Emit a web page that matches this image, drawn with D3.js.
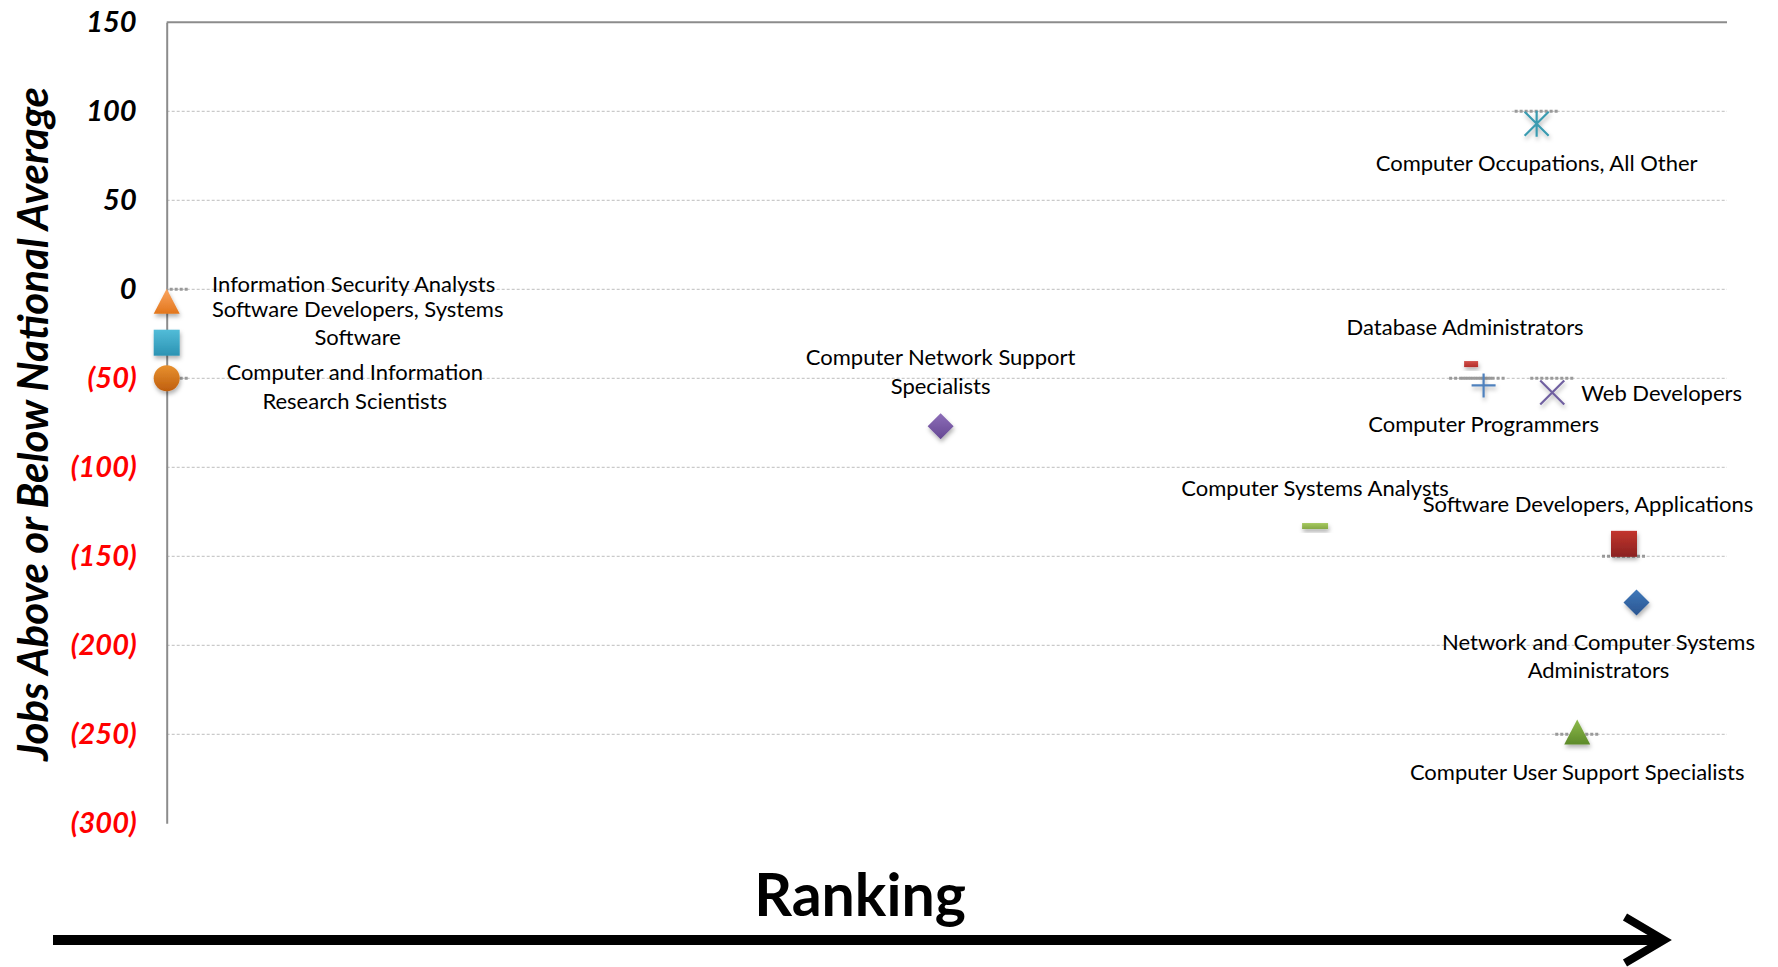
<!DOCTYPE html>
<meta charset="utf-8">
<style>
body { margin: 0; background: #fff; }
svg { display: block; }
.lbl { font: 22px Lato, "Open Sans", sans-serif; fill: #000; }
.tick text { font: italic bold 29px Lato, sans-serif; }
</style>
<body>
<script src="https://cdnjs.cloudflare.com/ajax/libs/d3/7.8.5/d3.min.js"></script>
<script>

// occupations, their ranking (0-100) and jobs above/below national average
var names = [
  "Information Security Analysts",
  "Software Developers, Systems Software",
  "Computer and Information Research Scientists",
  "Computer Network Support Specialists",
  "Computer Systems Analysts",
  "Database Administrators",
  "Computer Programmers",
  "Computer Occupations, All Other",
  "Web Developers",
  "Computer User Support Specialists",
  "Software Developers, Applications",
  "Network and Computer Systems Administrators"
];
var ranking = [0, 0, 0, 49.6, 73.6, 83.6, 84.4, 87.8, 88.8, 90.4, 93.4, 94.2];
var jobs = [-7, -30, -50, -77, -133, -42, -54, 93, -58, -249, -143, -176];
// dotted reference level drawn under some markers
var level = [0, null, -50, null, null, -50, -50, 100, -50, -250, -150, null];
var yTicks = [150, 100, 50, 0, -50, -100, -150, -200, -250, -300];

// how each label is broken and placed, and each marker's look
var labelLines = [
  ["Information Security Analysts"],
  ["Software Developers, Systems", "Software"],
  ["Computer and Information", "Research Scientists"],
  ["Computer Network Support", "Specialists"],
  ["Computer Systems Analysts"],
  ["Database Administrators"],
  ["Computer Programmers"],
  ["Computer Occupations, All Other"],
  ["Web Developers"],
  ["Computer User Support Specialists"],
  ["Software Developers, Applications"],
  ["Network and Computer Systems", "Administrators"]
];
var labelOffset = [
  [187, -10, "middle"], [191, -26, "middle"], [188, 2, "middle"],
  [0, -61, "middle"], [0, -30, "middle"], [-6, -29, "middle"],
  [0, 47, "middle"], [0, 47, "middle"], [29, 8, "start"],
  [0, 47, "middle"], [-36, -32, "middle"], [-38, 47, "middle"]
];
var markers = [
  ["triangle", "#FBA560", "#E2761C"],
  ["square", "#52BCD8", "#2B93B3"],
  ["circle", "#E8912F", "#BF5E0E"],
  ["diamond", "#8C6DB8", "#664893"],
  ["dash", "#A5C95E", "#86A847"],
  ["smalldash", "#D2504A", "#B3302C"],
  ["plus", "#4F81BD", "#4F81BD"],
  ["asterisk", "#3A9BB0", "#3A9BB0"],
  ["cross", "#7060A0", "#7060A0"],
  ["triangle", "#8DBA4A", "#5D8A2A"],
  ["square", "#C3352E", "#8A2220"],
  ["diamond", "#3F78BA", "#2A5590"]
];

var W = 1778, H = 967;

var svg = d3.select("body").append("svg")
    .attr("width", W)
    .attr("height", H);

var x = d3.scaleLinear().domain([0, 100]).range([166.7, 1727]);
var y = d3.scaleLinear().domain([-300, 150]).range([823.3, 22.3]);

var defs = svg.append("defs");
var shadow = defs.append("filter").attr("id", "shadow")
    .attr("x", "-50%").attr("y", "-50%").attr("width", "200%").attr("height", "200%");
shadow.append("feDropShadow")
    .attr("dx", 1).attr("dy", 3).attr("stdDeviation", 2)
    .attr("flood-color", "#000").attr("flood-opacity", 0.3);
defs.append("clipPath").attr("id", "plot")
  .append("rect")
    .attr("x", x(0)).attr("y", y(150))
    .attr("width", x(100) - x(0)).attr("height", y(-300) - y(150));

markers.forEach(function(m, i) {
  var g = defs.append("linearGradient").attr("id", "grad" + i)
      .attr("x1", 0).attr("y1", 0).attr("x2", 0).attr("y2", 1);
  g.append("stop").attr("offset", "0%").attr("stop-color", m[1]);
  g.append("stop").attr("offset", "100%").attr("stop-color", m[2]);
});

// gridlines
svg.append("g")
    .selectAll("line")
    .data(yTicks.filter(function(d) { return d > -300; }))
  .enter().append("line")
    .attr("x1", x(0))
    .attr("x2", x(100))
    .attr("y1", function(d) { return y(d); })
    .attr("y2", function(d) { return y(d); })
    .attr("stroke", function(d) { return d == 150 ? "#8c8c8c" : "#bdbdbd"; })
    .attr("stroke-width", function(d) { return d == 150 ? 2 : 1; })
    .attr("stroke-dasharray", function(d) { return d == 150 ? null : "3,2"; });

// y axis
var yAxis = svg.append("g")
    .attr("transform", "translate(" + x(0) + ",0)")
    .call(d3.axisLeft(y)
      .tickValues(yTicks)
      .tickSize(0)
      .tickPadding(30)
      .tickFormat(function(d) { return d < 0 ? "(" + (-d) + ")" : d; }));
yAxis.select(".domain").attr("stroke", "#8c8c8c").attr("stroke-width", 2);
yAxis.selectAll(".tick text")
    .attr("fill", function(d) { return d < 0 ? "#ff0000" : "#000"; });

svg.append("text")
    .attr("transform", "translate(32,424) rotate(-90)")
    .attr("text-anchor", "middle")
    .attr("dominant-baseline", "central")
    .style("font", "italic bold 42px Lato, sans-serif")
    .text("Jobs Above or Below National Average");

var pts = names.map(function(n, i) {
  return {name: n, r: ranking[i], v: jobs[i], level: level[i], i: i};
});

// dotted level marks
svg.append("g")
    .attr("clip-path", "url(#plot)")
    .selectAll("line")
    .data(pts.filter(function(d) { return d.level != null; }))
  .enter().append("line")
    .attr("x1", function(d) { return x(d.r) - 22; })
    .attr("x2", function(d) { return x(d.r) + 22; })
    .attr("y1", function(d) { return y(d.level); })
    .attr("y2", function(d) { return y(d.level); })
    .attr("stroke", "#9a9a9a")
    .attr("stroke-width", 3)
    .attr("stroke-dasharray", "3,2");

function shape(type) {
  var h = 13;
  switch (type) {
    case "triangle": return "M0," + (-h) + "L" + h + "," + (h - 1) + "L" + (-h) + "," + (h - 1) + "Z";
    case "square": return "M" + (-h) + "," + (-h) + "H" + h + "V" + h + "H" + (-h) + "Z";
    case "diamond": return "M0," + (-h) + "L" + h + ",0L0," + h + "L" + (-h) + ",0Z";
    case "dash": return "M-13,-3H13V3H-13Z";
    case "smalldash": return "M-7,-3H7V3H-7Z";
    case "plus": return "M-12,0H12M0,-12V12";
    case "cross": return "M-12,-12L12,12M12,-12L-12,12";
    case "asterisk": return "M-12,-12L12,12M12,-12L-12,12M0,-13V13";
  }
}

var marks = svg.append("g").selectAll("g")
    .data(pts)
  .enter().append("g")
    .attr("transform", function(d) { return "translate(" + x(d.r) + "," + y(d.v) + ")"; })
    .attr("filter", "url(#shadow)");

marks.each(function(d) {
  var m = markers[d.i], g = d3.select(this);
  var lineOnly = m[0] == "plus" || m[0] == "cross" || m[0] == "asterisk";
  if (m[0] == "circle") {
    g.append("circle").attr("r", 13).attr("fill", "url(#grad" + d.i + ")");
  } else if (lineOnly) {
    g.append("path").attr("d", shape(m[0]))
        .attr("fill", "none").attr("stroke", m[1]).attr("stroke-width", 2.2);
  } else {
    g.append("path").attr("d", shape(m[0])).attr("fill", "url(#grad" + d.i + ")");
  }
});

// labels
var labels = svg.append("g").selectAll("text")
    .data(pts)
  .enter().append("text")
    .attr("class", "lbl")
    .attr("text-anchor", function(d) { return labelOffset[d.i][2]; })
    .attr("x", function(d) { return x(d.r) + labelOffset[d.i][0]; })
    .attr("y", function(d) { return y(d.v) + labelOffset[d.i][1]; });

labels.each(function(d) {
  var t = d3.select(this);
  labelLines[d.i].forEach(function(s, k) {
    t.append("tspan")
        .attr("x", x(d.r) + labelOffset[d.i][0])
        .attr("dy", k == 0 ? 0 : 28.5)
        .text(s);
  });
});

// ranking arrow
svg.append("text")
    .attr("x", 860)
    .attr("y", 916)
    .attr("text-anchor", "middle")
    .style("font", "bold 59px Lato, sans-serif")
    .text("Ranking");

svg.append("line")
    .attr("x1", 53).attr("x2", 1660)
    .attr("y1", 940).attr("y2", 940)
    .attr("stroke", "#000").attr("stroke-width", 10);
svg.append("path")
    .attr("d", "M1625,917L1664,940L1625,963")
    .attr("fill", "none")
    .attr("stroke", "#000")
    .attr("stroke-width", 8);

</script>
</body>
